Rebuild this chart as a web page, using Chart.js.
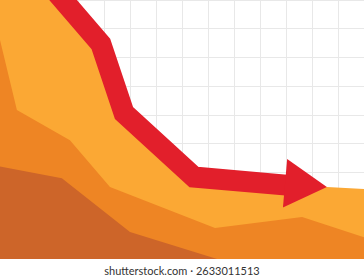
<!DOCTYPE html>
<html>
<head>
<meta charset="utf-8">
<script src="https://cdn.jsdelivr.net/npm/chart.js@4"></script>
<style>
  html, body { margin: 0; padding: 0; background: #fff; }
  #wrap { position: absolute; left: 0; top: 0; width: 364px; height: 259px; }
  #credit {
    position: absolute; left: 0; top: 263px; width: 364px;
    text-align: center; font: 11px Lato, sans-serif; color: #333; line-height: 15px;
  }
</style>
</head>
<body>
<div id="wrap"><canvas id="chart"></canvas></div>
<div id="credit">shutterstock.com · 2633011513</div>
<script>
  // x in grid columns (14 across), y in grid rows (9 high)
  const lightX = [0, 2.12, 3.88, 4.77, 7.46, 10.96, 12.58, 14];
  const lightY = [9.5, 9.17, 7.47, 5.07, 2.85, 2.50, 2.50, 2.43];

  const midX = [0, 0.65, 2.69, 4.23, 8.27, 11.62, 14];
  const midY = [7.61, 5.18, 4.13, 2.50, 1.08, 1.46, 0.76];

  const darkX = [0, 2.38, 5.0, 8.35, 14];
  const darkY = [3.21, 2.81, 0.94, 0, 0];

  const arrowX = [1.77, 3.88, 4.77, 7.46, 11.23];
  const arrowY = [9.69, 7.47, 5.07, 2.85, 2.55];
  const headX = [11.5];
  const headY = [2.59];

  const pts = (xs, ys) => xs.map((x, i) => ({ x, y: ys[i] }));

  const area = (label, xs, ys, color) => ({
    type: 'line',
    label,
    data: pts(xs, ys),
    fill: 'origin',
    backgroundColor: color,
    borderWidth: 0,
    pointRadius: 0,
    tension: 0,
  });

  new Chart(document.getElementById('chart'), {
    type: 'line',
    data: {
      datasets: [
        {
          type: 'scatter',
          label: 'head',
          data: pts(headX, headY),
          pointStyle: 'triangle',
          pointRadius: 28,
          pointRotation: 95,
          backgroundColor: '#e21f2b',
          borderWidth: 0,
        },
        {
          type: 'line',
          label: 'trend',
          data: pts(arrowX, arrowY),
          borderColor: '#e21f2b',
          borderWidth: 21,
          borderJoinStyle: 'miter',
          borderCapStyle: 'butt',
          pointRadius: 0,
          fill: false,
          tension: 0,
        },
        area('dark', darkX, darkY, '#cd6529'),
        area('mid', midX, midY, '#ee8524'),
        area('light', lightX, lightY, '#fba834'),
      ]
    },
    options: {
      responsive: true,
      maintainAspectRatio: false,
      animation: false,
      layout: { padding: 0, autoPadding: false },
      plugins: { legend: { display: false }, tooltip: { enabled: false } },
      scales: {
        x: {
          type: 'linear', min: 0, max: 14,
          border: { display: false },
          grid: { color: '#e8e8e8', lineWidth: 1, drawTicks: false },
          ticks: { display: false, stepSize: 1 },
        },
        y: {
          min: 0, max: 9,
          border: { display: false },
          grid: { color: '#e8e8e8', lineWidth: 1, drawTicks: false },
          ticks: { display: false, stepSize: 1 },
        }
      }
    }
  });
</script>
</body>
</html>
